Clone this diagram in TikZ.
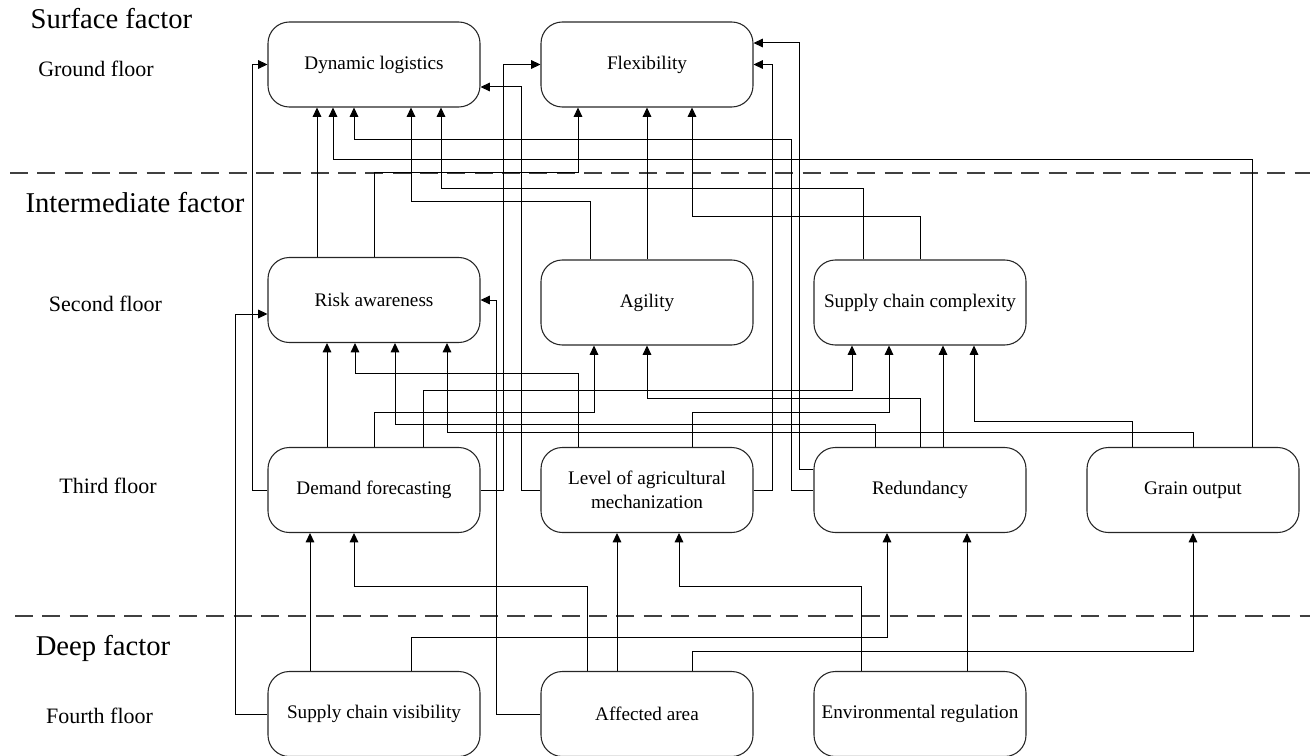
\documentclass[tikz,border=0pt]{standalone}
\usepackage{fontspec}
\setmainfont{Liberation Serif}
\usetikzlibrary{arrows.meta}
\newcommand\boxfnt{\fontsize{14.4}{18}\selectfont}
\newcommand\floorfnt{\fontsize{16.5}{20}\selectfont}
\newcommand\factfnt{\fontsize{21.5}{26}\selectfont}
\tikzset{
  factbox/.style={draw=black!85, line width=0.8pt, rounded corners=16pt,
    minimum width=159pt, minimum height=63.75pt, align=center, font=\boxfnt, inner sep=2pt},
  arr/.style={draw=black, line width=0.75pt, -{Triangle[length=7pt,width=6.5pt]}},
  layerline/.style={draw=black!75, line width=0.8pt, dash pattern=on 13.5pt off 7pt},
  floorlbl/.style={anchor=base, font=\floorfnt},
  factlbl/.style={anchor=base, font=\factfnt}
}
\begin{document}
\begin{tikzpicture}[x=0.75pt,y=-0.75pt]
\useasboundingbox (0,0) rectangle (1310,756);

% layer separators
\draw[layerline] (10,173) -- (1310,173);
\draw[layerline] (15,616) -- (1310,616);

% left labels
\node[factlbl] (lsurf) at (111.5,29) {Surface factor};
\node[floorlbl] (lground) at (96,77) {Ground floor};
\node[factlbl] (linter) at (135,213) {Intermediate factor};
\node[floorlbl] (lsecond) at (105.5,311) {Second floor};
\node[floorlbl] (lthird) at (108,493) {Third floor};
\node[factlbl] (ldeep) at (103,655) {Deep factor};
\node[floorlbl] (lfourth) at (99.5,723) {Fourth floor};

% boxes
\node[factbox] (DL) at (374,64.5) {Dynamic logistics};
\node[factbox] (Flex) at (647,64.5) {Flexibility};
\node[factbox] (RA) at (374,300) {Risk awareness};
\node[factbox] (Ag) at (647,302.5) {Agility};
\node[factbox] (SCC) at (920,302.5) {Supply chain complexity};
\node[factbox] (DF) at (374,490) {Demand forecasting};
\node[factbox] (LAM) at (647,490) {Level of agricultural\\mechanization};
\node[factbox] (Red) at (920,490) {Redundancy};
\node[factbox] (GO) at (1193,490) {Grain output};
\node[factbox] (SCV) at (374,714) {Supply chain visibility};
\node[factbox] (AA) at (647,714) {Affected area};
\node[factbox] (ER) at (920,714) {Environmental regulation};

% connectors into Dynamic logistics
\draw[arr] (DF.west) -- (252,490) |- (DL.west);
\draw[arr] (RA.north -| 317,0) -- (DL.south -| 317,0);
\draw[arr] (GO.north -| 1252,0) |- (333,160) -- (DL.south -| 333,0);
\draw[arr] (Red.west) -- (791,490) |- (354,140) -- (DL.south -| 354,0);
\draw[arr] (Ag.north -| 590,0) |- (411,202) -- (DL.south -| 411,0);
\draw[arr] (SCC.north -| 863,0) |- (441,189) -- (DL.south -| 441,0);
\draw[arr] (LAM.west) -- (521,490) -- (521,87) -- (DL.east |- 0,87);

% connectors into Flexibility
\draw[arr] (DF.east) -- (503,490) |- (Flex.west);
\draw[arr] (RA.north) |- (578,173) -- (Flex.south -| 578,0);
\draw[arr] (Ag.north) -- (Flex.south);
\draw[arr] (SCC.north) |- (692,217) -- (Flex.south -| 692,0);
\draw[arr] (Red.west |- 0,469) -- (799,469) -- (799,43) -- (Flex.east |- 0,43);
\draw[arr] (LAM.east) -- (772,490) |- (Flex.east);

% connectors into Risk awareness
\draw[arr] (SCV.west) -- (235,714) |- (RA.west |- 0,314);
\draw[arr] (AA.west) -- (496,714) |- (RA.east);
\draw[arr] (DF.north -| 327,0) -- (RA.south -| 327,0);
\draw[arr] (LAM.north -| 578,0) |- (355,373) -- (RA.south -| 355,0);
\draw[arr] (Red.north -| 875,0) |- (395,424) -- (RA.south -| 395,0);
\draw[arr] (GO.north) |- (447,432) -- (RA.south -| 447,0);

% connectors into Agility
\draw[arr] (DF.north) |- (594,412) -- (Ag.south -| 594,0);
\draw[arr] (Red.north) |- (647,398) -- (Ag.south);

% connectors into Supply chain complexity
\draw[arr] (DF.north -| 423,0) |- (852,390) -- (SCC.south -| 852,0);
\draw[arr] (LAM.north -| 692,0) |- (889,412) -- (SCC.south -| 889,0);
\draw[arr] (Red.north -| 943,0) -- (SCC.south -| 943,0);
\draw[arr] (GO.north -| 1132,0) |- (974,421) -- (SCC.south -| 974,0);

% connectors from fourth floor
\draw[arr] (SCV.north -| 310,0) -- (DF.south -| 310,0);
\draw[arr] (AA.north -| 587,0) |- (354,586) -- (DF.south -| 354,0);
\draw[arr] (SCV.north -| 411,0) |- (887,637) -- (Red.south -| 887,0);
\draw[arr] (AA.north -| 617,0) -- (LAM.south -| 617,0);
\draw[arr] (ER.north -| 861,0) |- (679,586) -- (LAM.south -| 679,0);
\draw[arr] (AA.north -| 692,0) |- (1193,651) -- (GO.south);
\draw[arr] (ER.north -| 967,0) -- (Red.south -| 967,0);
\end{tikzpicture}
\end{document}
